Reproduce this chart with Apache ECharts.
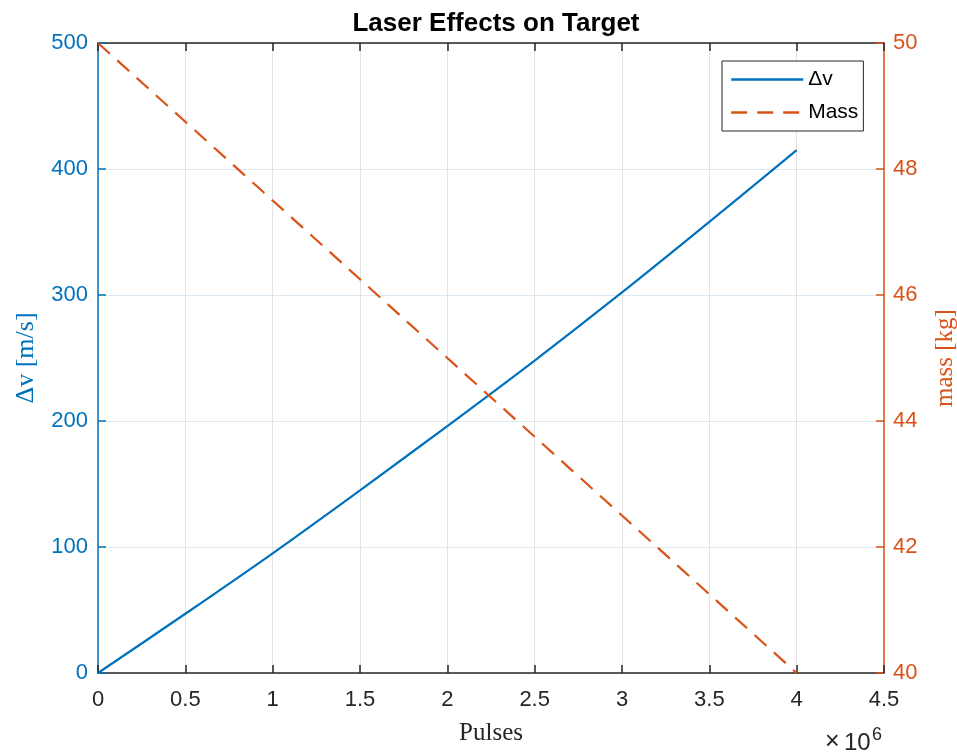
<!DOCTYPE html>
<html>
<head>
<meta charset="utf-8">
<script src="https://cdn.jsdelivr.net/npm/echarts@6/dist/echarts.min.js"></script>
<style>html,body{margin:0;padding:0;background:#fff}#c{width:957px;height:752px}</style>
</head>
<body>
<div id="c"></div>
<script>
// Data (x in pulses)
var pulses = [0, 0.5e6, 1e6, 1.5e6, 2e6, 2.5e6, 3e6, 3.5e6, 4e6];
var deltaV = [0, 47, 95, 145, 196, 248, 302, 358, 415];
var mass = [50, 48.75, 47.5, 46.25, 45, 43.75, 42.5, 41.25, 40];
var xTicks = [0, 0.5, 1, 1.5, 2, 2.5, 3, 3.5, 4, 4.5];

var BLUE = '#0072BD', ORANGE = '#D95319', DARK = '#262626';
var SANS = 'Liberation Sans, Arial, Helvetica';
var SERIF = 'Liberation Serif, Times New Roman';
var chart = echarts.init(document.getElementById('c'), null, {renderer: 'canvas'});
function pairs(xs, ys){ return xs.map(function(x,i){return [x, ys[i]];}); }

chart.setOption({
  animation: false,
  backgroundColor: '#fff',
  title: {
    text: 'Laser Effects on Target', left: 491, top: 6, textAlign: 'center',
    textStyle: {fontFamily: SANS, fontWeight: 'bold', fontSize: 26, color: '#000'}
  },
  grid: {left: 98, right: 73, top: 43, bottom: 79, containLabel: false, outerBoundsMode: 'none'},
  legend: {
    left: 722, top: 61, orient: 'vertical', itemWidth: 72, itemHeight: 20, itemGap: 12,
    padding: [8, 5, 8, 8],
    borderColor: DARK, borderWidth: 1, backgroundColor: '#fff',
    itemStyle: {opacity: 0, color: 'rgba(0,0,0,0)', borderWidth: 0},
    lineStyle: {width: 2.4},
    textStyle: {fontFamily: SANS, fontSize: 21, color: '#000'},
    data: ['Δv', 'Mass']
  },
  xAxis: [{
    type: 'value', min: 0, max: 4.5e6, interval: 0.5e6, position: 'bottom',
    name: 'Pulses', nameLocation: 'middle', nameGap: 48,
    nameTextStyle: {fontFamily: SERIF, fontSize: 25, color: DARK},
    axisLine: {show: true, onZero: false, lineStyle: {color: DARK, width: 1.5}},
    axisTick: {show: true, inside: true, length: 8, lineStyle: {color: DARK, width: 1.5}},
    axisLabel: {fontFamily: SANS, fontSize: 22, color: DARK, margin: 16,
      formatter: function(v){ return String(+(v/1e6).toFixed(1)); }},
    splitLine: {show: true, lineStyle: {color: '#e3e3e3', width: 1}}
  }, {
    type: 'value', position: 'top', min: 0, max: 4.5e6, interval: 0.5e6,
    axisLine: {show: true, onZero: false, lineStyle: {color: DARK, width: 1.5}},
    axisTick: {show: true, inside: true, length: 8, lineStyle: {color: DARK, width: 1.5}},
    axisLabel: {show: false}, splitLine: {show: false}
  }],
  yAxis: [{
    type: 'value', min: 0, max: 500, interval: 100, position: 'left',
    name: 'Δv [m/s]', nameLocation: 'middle', nameGap: 59,
    nameTextStyle: {fontFamily: SERIF, fontSize: 26, color: BLUE},
    axisLine: {show: true, onZero: false, lineStyle: {color: BLUE, width: 1.5}},
    axisTick: {show: true, inside: true, length: 8, lineStyle: {color: BLUE, width: 1.5}},
    axisLabel: {fontFamily: SANS, fontSize: 22, color: BLUE, margin: 10},
    splitLine: {show: true, lineStyle: {color: '#dbe8f2', width: 1}}
  }, {
    type: 'value', min: 40, max: 50, interval: 2, position: 'right',
    name: 'mass [kg]', nameLocation: 'middle', nameGap: 49,
    nameTextStyle: {fontFamily: SERIF, fontSize: 25, color: ORANGE},
    axisLine: {show: true, onZero: false, lineStyle: {color: ORANGE, width: 1.5}},
    axisTick: {show: true, inside: true, length: 8, lineStyle: {color: ORANGE, width: 1.5}},
    axisLabel: {fontFamily: SANS, fontSize: 22, color: ORANGE, margin: 9},
    splitLine: {show: false}
  }],
  series: [{
    name: 'Δv', type: 'line', xAxisIndex: 0, yAxisIndex: 0, symbol: 'none', smooth: 0.3,
    data: pairs(pulses, deltaV), lineStyle: {color: BLUE, width: 2.2}, itemStyle: {color: BLUE}, z: 3
  }, {
    name: 'Mass', type: 'line', xAxisIndex: 0, yAxisIndex: 1, symbol: 'none',
    data: pairs(pulses, mass), lineStyle: {color: ORANGE, width: 2.2, type: [16, 10]}, itemStyle: {color: ORANGE}, z: 3
  }],
  graphic: [{
    type: 'text', left: 825, top: 730,
    style: {text: '×', font: '25px ' + SANS, fill: DARK}
  }, {
    type: 'text', left: 844, top: 731,
    style: {text: '10', font: '24px ' + SANS, fill: DARK}
  }, {
    type: 'text', left: 872, top: 726,
    style: {text: '6', font: '18px ' + SANS, fill: DARK}
  }]
});
</script>
</body>
</html>
